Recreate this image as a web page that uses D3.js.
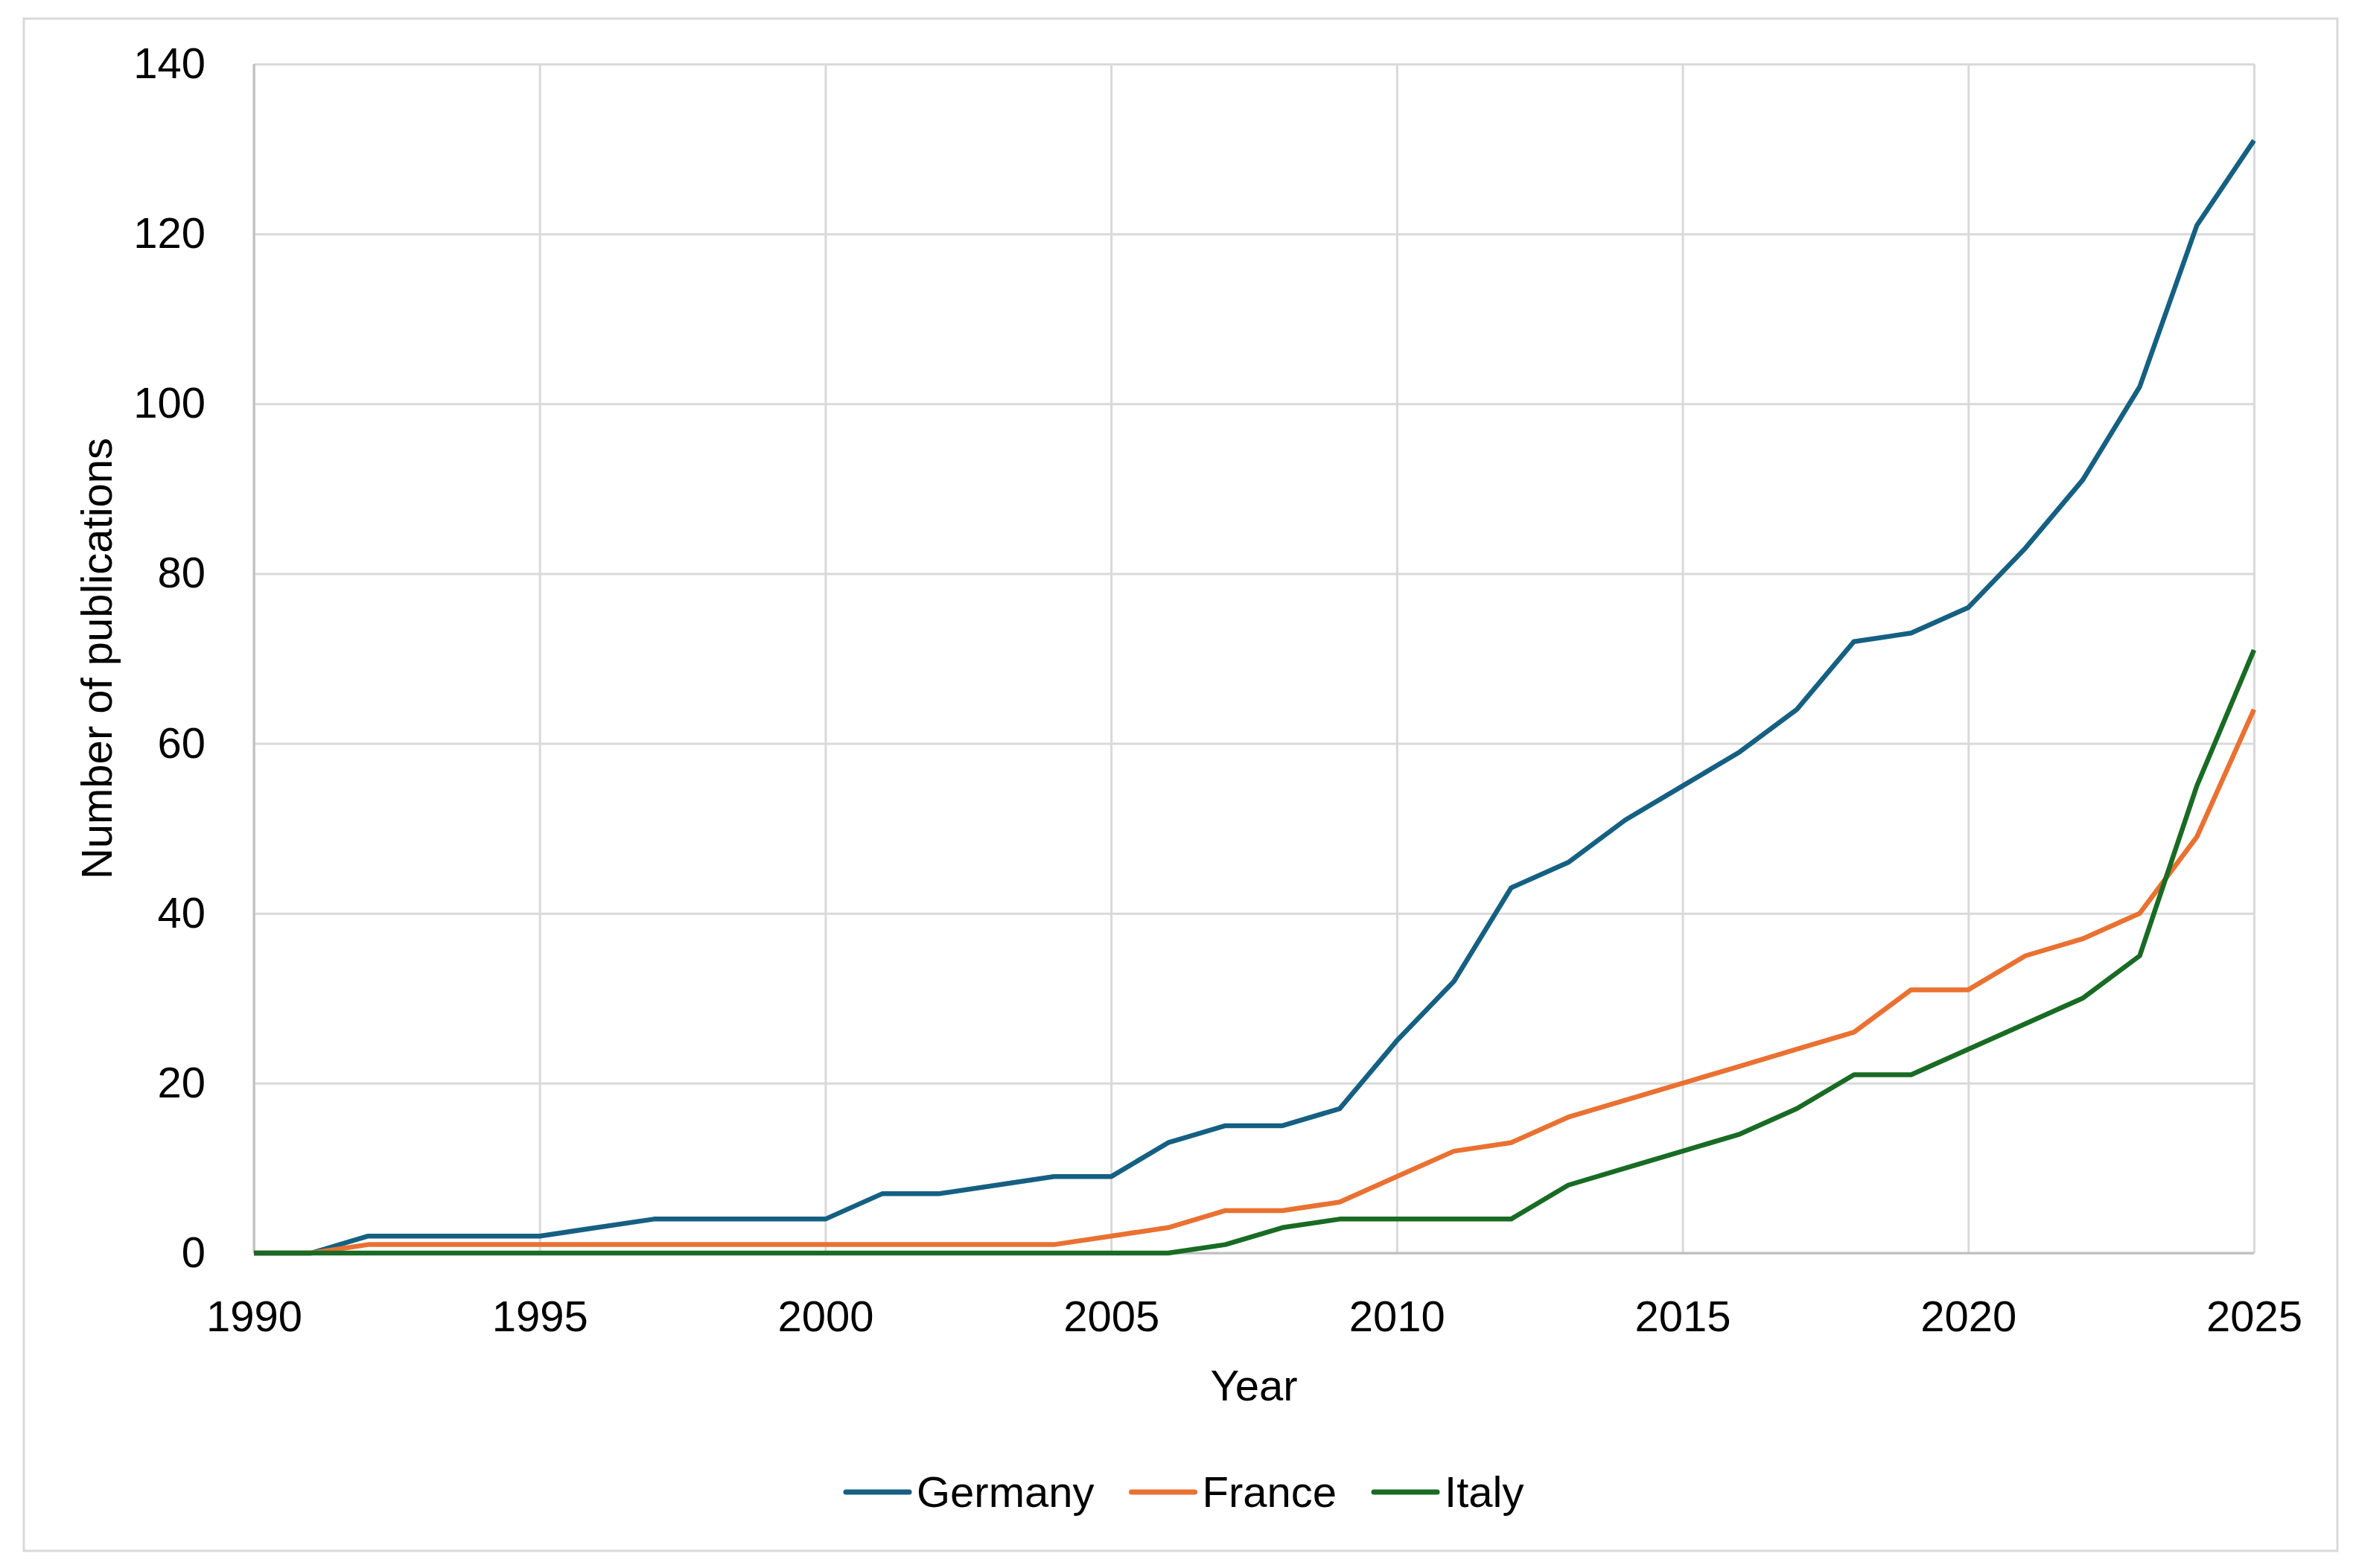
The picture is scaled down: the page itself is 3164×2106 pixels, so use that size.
<!DOCTYPE html>
<html>
<head>
<meta charset="utf-8">
<script src="https://cdn.jsdelivr.net/npm/d3@7"></script>
<style>
  body { margin: 0; background: #fff; }
  svg text { font-family: "Liberation Sans", Arial, sans-serif; fill: #000; }
</style>
</head>
<body>
<div id="chart"></div>
<script>
// data
var years = d3.range(1990, 2026);
var germany = [0, 0, 2, 2, 2, 2, 3, 4, 4, 4, 4, 7, 7, 8, 9, 9, 13, 15, 15, 17,
               25, 32, 43, 46, 51, 55, 59, 64, 72, 73, 76, 83, 91, 102, 121, 131];
var france  = [0, 0, 1, 1, 1, 1, 1, 1, 1, 1, 1, 1, 1, 1, 1, 2, 3, 5, 5, 6,
               9, 12, 13, 16, 18, 20, 22, 24, 26, 31, 31, 35, 37, 40, 49, 64];
var italy   = [0, 0, 0, 0, 0, 0, 0, 0, 0, 0, 0, 0, 0, 0, 0, 0, 0, 1, 3, 4,
               4, 4, 4, 8, 10, 12, 14, 17, 21, 21, 24, 27, 30, 35, 55, 71];
var seriesNames = ["Germany", "France", "Italy"];
var seriesColors = ["#156082", "#E97132", "#196B24"];
var xTicks = [1990, 1995, 2000, 2005, 2010, 2015, 2020, 2025];
var yTicks = [0, 20, 40, 60, 80, 100, 120, 140];

var W = 3164, H = 2106;
var margin = {top: 86, right: 137, bottom: 423, left: 341},
    width = W - margin.left - margin.right,
    height = H - margin.top - margin.bottom;
var fontSize = 58;

var x = d3.scaleLinear().domain([1990, 2025]).range([0, width]);
var y = d3.scaleLinear().domain([0, 140]).range([height, 0]);

var root = d3.select("#chart").append("svg")
    .attr("width", W)
    .attr("height", H);

// outer chart border
root.append("rect")
    .attr("x", 32).attr("y", 25)
    .attr("width", 3107).attr("height", 2058)
    .attr("fill", "#fff")
    .attr("stroke", "#D9D9D9")
    .attr("stroke-width", 3);

var svg = root.append("g")
    .attr("transform", "translate(" + margin.left + "," + margin.top + ")");

// gridlines
svg.append("g")
    .attr("class", "grid")
    .call(d3.axisLeft(y).tickValues(yTicks).tickSize(-width).tickFormat(""))
    .call(function(g) { g.select(".domain").remove(); })
    .selectAll("line").attr("stroke", "#D9D9D9").attr("stroke-width", 3);

svg.append("g")
    .attr("class", "grid")
    .attr("transform", "translate(0," + height + ")")
    .call(d3.axisBottom(x).tickValues(xTicks).tickSize(-height).tickFormat(""))
    .call(function(g) { g.select(".domain").remove(); })
    .selectAll("line").attr("stroke", "#D9D9D9").attr("stroke-width", 3);

// axis lines
svg.append("line")
    .attr("x1", x(1990)).attr("x2", x(2025))
    .attr("y1", y(0)).attr("y2", y(0))
    .attr("stroke", "#BFBFBF").attr("stroke-width", 3);
svg.append("line")
    .attr("x1", x(1990)).attr("x2", x(1990))
    .attr("y1", y(0)).attr("y2", y(140))
    .attr("stroke", "#BFBFBF").attr("stroke-width", 3);

// tick labels
var yAxis = svg.append("g")
    .call(d3.axisLeft(y).tickValues(yTicks).tickSize(0).tickPadding(65));
yAxis.select(".domain").remove();
yAxis.selectAll("text").style("font-size", fontSize + "px").attr("fill", "#000");

var xAxis = svg.append("g")
    .attr("transform", "translate(0," + height + ")")
    .call(d3.axisBottom(x).tickValues(xTicks).tickSize(0).tickPadding(64).tickFormat(d3.format("d")));
xAxis.select(".domain").remove();
xAxis.selectAll("text").style("font-size", fontSize + "px").attr("fill", "#000");

// axis titles
svg.append("text")
    .attr("x", width / 2)
    .attr("y", 1881 - margin.top)
    .attr("text-anchor", "middle")
    .style("font-size", fontSize + "px")
    .text("Year");

svg.append("text")
    .attr("transform", "translate(" + (150 - margin.left) + "," + (height / 2) + ") rotate(-90)")
    .attr("text-anchor", "middle")
    .style("font-size", fontSize + "px")
    .text("Number of publications");

// lines
var valueline = d3.line()
    .x(function(d, i) { return x(years[i]); })
    .y(function(d) { return y(d); });

[germany, france, italy].forEach(function(data, i) {
    svg.append("path")
        .attr("d", valueline(data))
        .attr("fill", "none")
        .attr("stroke", seriesColors[i])
        .attr("stroke-width", 6.5)
        .attr("stroke-linejoin", "round");
});

// legend
var legend = root.append("g").attr("transform", "translate(1136,2004)");
var lx = 0;
seriesNames.forEach(function(name, i) {
    legend.append("line")
        .attr("x1", lx).attr("x2", lx + 85)
        .attr("y1", 0).attr("y2", 0)
        .attr("stroke", seriesColors[i])
        .attr("stroke-width", 7)
        .attr("stroke-linecap", "round");
    var t = legend.append("text")
        .attr("x", lx + 95)
        .attr("y", 20)
        .style("font-size", fontSize + "px")
        .text(name);
    lx += 95 + t.node().getComputedTextLength() + 50;
});
</script>
</body>
</html>
